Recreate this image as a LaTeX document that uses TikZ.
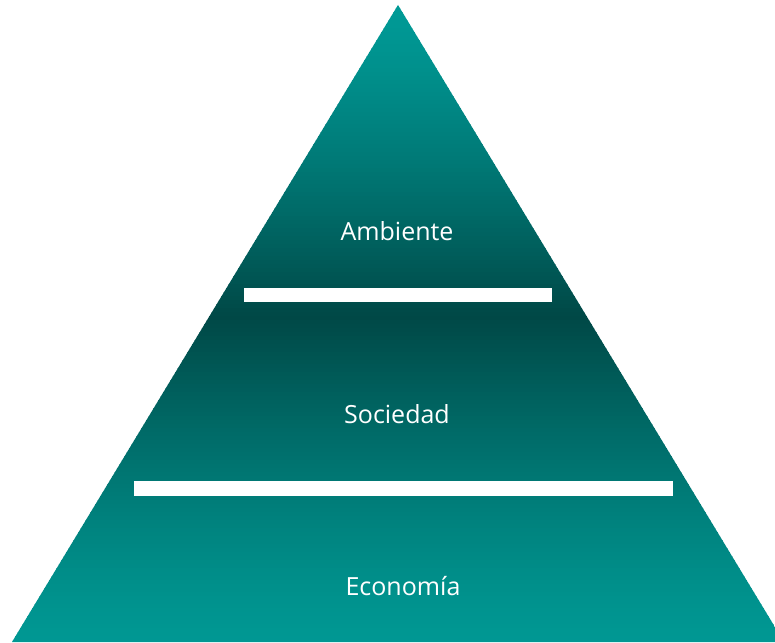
\documentclass[tikz,border=0pt]{standalone}
\usepackage{fontspec}
\setmainfont{Open Sans}
\definecolor{tealtop}{RGB}{0,154,150}
\definecolor{tealdark}{RGB}{0,72,70}
\definecolor{tealbot}{RGB}{0,152,147}
\begin{document}
\begin{tikzpicture}[x=1pt,y=-1pt,
  bar/.style={fill=white,draw=none},
  lbl/.style={text=white,font=\fontsize{25}{28}\selectfont}]
\useasboundingbox (0,0) rectangle (775,642);
\begin{scope}
\clip (398,5) -- (784,642) -- (12,642) -- cycle;
\foreach \y in {0,4,...,640}{
  \pgfmathsetmacro{\t}{\y<315 ? max(0,(\y-5)/310) : max(0,(642-\y)/327)}
  \pgfmathsetmacro{\pp}{min(100,100*(\t^1.3))}
  \ifdim\y pt<315pt
    \fill[tealdark!\pp!tealtop] (0,\y) rectangle (775,\y+4.6);
  \else
    \fill[tealdark!\pp!tealbot] (0,\y) rectangle (775,\y+4.6);
  \fi
}
\end{scope}
\fill[bar] (244,288) rectangle (552,302);
\fill[bar] (134,481) rectangle (673,496);
\node[lbl] (amb) at (397,231) {Ambiente};
\node[lbl] (soc) at (397,414) {Sociedad};
\node[lbl] (eco) at (403,586) {Economía};
\end{tikzpicture}
\end{document}
